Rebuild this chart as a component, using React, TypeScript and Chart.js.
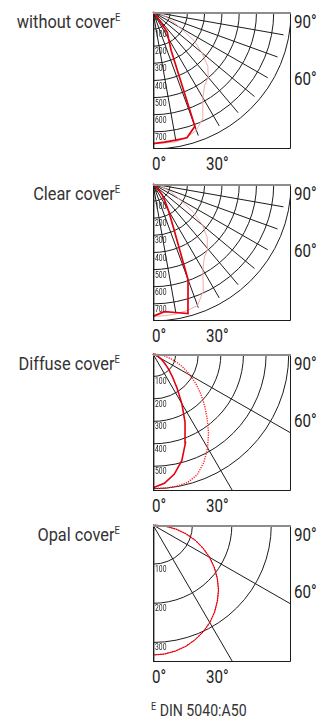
import React, { useEffect, useRef } from "react";
import { Chart, registerables } from "chart.js";

Chart.register(...registerables);

// Beam angles (degrees from nadir)
const ANGLES = [0, 5, 10, 15, 20, 25, 30, 35, 40, 45, 50, 55, 60, 65, 70, 75, 80, 85, 90];

// Luminous intensity, cd/klm — C0/C180 plane (solid) and C90/C270 plane (light / dotted)
const WITHOUT_C0 = [769, 763, 760, 760, 710, 250, 180, 145, 30, 10, 0, 0, 0, 0, 0, 0, 0, 0, 0];
const WITHOUT_C90 = [769, 768, 770, 758, 735, 685, 578, 522, 498, 450, 370, 290, 178, 118, 72, 45, 25, 10, 0];
const CLEAR_C0 = [773, 748, 762, 783, 594, 280, 180, 120, 80, 40, 15, 0, 0, 0, 0, 0, 0, 0, 0];
const CLEAR_C90 = [773, 772, 770, 765, 755, 690, 578, 520, 495, 445, 375, 285, 178, 118, 72, 45, 25, 10, 0];
const DIFFUSE_C0 = [595, 578, 543, 492, 420, 335, 255, 185, 135, 100, 72, 52, 36, 25, 16, 10, 5, 2, 0];
const DIFFUSE_C90 = [598, 600, 598, 592, 572, 532, 483, 428, 372, 322, 275, 232, 190, 152, 115, 82, 52, 25, 0];
const OPAL_C0 = [332, 331, 327, 321, 312, 301, 288, 272, 254, 235, 213, 190, 166, 140, 114, 86, 58, 29, 0];
const OPAL_C90 = [332, 331, 327, 321, 312, 301, 288, 272, 254, 235, 213, 190, 166, 140, 114, 86, 58, 29, 0];

// Grid rings and their labels
const WITHOUT_RINGS = [100, 200, 300, 400, 500, 600, 700, 800];
const WITHOUT_RING_LABELS = ["0", "100", "200", "300", "400", "500", "600", "700"];
const CLEAR_RINGS = [100, 200, 300, 400, 500, 600, 700, 800];
const CLEAR_RING_LABELS = ["0", "100", "200", "300", "400", "500", "600", "700"];
const DIFFUSE_RINGS = [100, 200, 300, 400, 500, 600];
const DIFFUSE_RING_LABELS = ["100", "200", "300", "400", "500"];
const OPAL_RINGS = [100, 200, 300];
const OPAL_RING_LABELS = ["100", "200", "300"];

const FINE_RAYS = [10, 20, 30, 40, 50, 60, 70, 80];
const COARSE_RAYS = [30, 60];

const TITLES = ["without cover", "Clear cover", "Diffuse cover", "Opal cover"];
const SCALE_MAX = [800, 800, 610, 350];
const ANGLE_LABELS = ["0°", "30°", "60°", "90°"];
const FOOTNOTE = "DIN 5040:A50";

const FONT = 'Roboto, "DejaVu Sans Condensed", sans-serif';

type Panel = {
  title: string;
  max: number;
  c0: number[];
  c90: number[];
  rings: number[];
  ringLabels: string[];
  rays: number[];
  rayLen: number;
  secondStyle: "pale" | "dotted";
  top: number;
};

const PANELS: Panel[] = [
  { title: TITLES[0], max: SCALE_MAX[0], c0: WITHOUT_C0, c90: WITHOUT_C90, rings: WITHOUT_RINGS, ringLabels: WITHOUT_RING_LABELS, rays: FINE_RAYS, rayLen: 0.96, secondStyle: "pale", top: 12 },
  { title: TITLES[1], max: SCALE_MAX[1], c0: CLEAR_C0, c90: CLEAR_C90, rings: CLEAR_RINGS, ringLabels: CLEAR_RING_LABELS, rays: FINE_RAYS, rayLen: 0.96, secondStyle: "pale", top: 184 },
  { title: TITLES[2], max: SCALE_MAX[2], c0: DIFFUSE_C0, c90: DIFFUSE_C90, rings: DIFFUSE_RINGS, ringLabels: DIFFUSE_RING_LABELS, rays: COARSE_RAYS, rayLen: 3, secondStyle: "dotted", top: 354 },
  { title: TITLES[3], max: SCALE_MAX[3], c0: OPAL_C0, c90: OPAL_C90, rings: OPAL_RINGS, ringLabels: OPAL_RING_LABELS, rays: COARSE_RAYS, rayLen: 3, secondStyle: "dotted", top: 525 },
];

const toXY = (vals: number[]) =>
  ANGLES.map((a, i) => {
    const t = (a * Math.PI) / 180;
    return { x: vals[i] * Math.sin(t), y: vals[i] * Math.cos(t) };
  });

const polarGrid = {
  id: "polarGrid",
  beforeDatasetsDraw(chart: any, _args: any, opts: any) {
    const { ctx, chartArea: ca, scales } = chart;
    const sx = scales.x, sy = scales.y;
    const ox = sx.getPixelForValue(0);
    const oy = sy.getPixelForValue(0);
    ctx.save();
    ctx.beginPath();
    ctx.rect(ca.left, ca.top, ca.right - ca.left, ca.bottom - ca.top);
    ctx.clip();
    ctx.strokeStyle = "#1c1c1c";
    ctx.lineWidth = 1;
    for (const v of opts.rings) {
      const rx = sx.getPixelForValue(v) - ox;
      const ry = sy.getPixelForValue(v) - oy;
      ctx.beginPath();
      ctx.ellipse(ox, oy, rx, ry, 0, 0, Math.PI / 2);
      ctx.stroke();
    }
    const L = opts.max * opts.rayLen;
    for (const a of opts.rays) {
      const t = (a * Math.PI) / 180;
      ctx.beginPath();
      ctx.moveTo(ox, oy);
      ctx.lineTo(sx.getPixelForValue(L * Math.sin(t)), sy.getPixelForValue(L * Math.cos(t)));
      ctx.stroke();
    }
    ctx.fillStyle = "#222";
    ctx.font = `8.5px ${FONT}`;
    ctx.textBaseline = "alphabetic";
    ctx.textAlign = "left";
    opts.ringLabels.forEach((lab: string) => {
      const v = Number(lab);
      const w = ctx.measureText(lab).width;
      ctx.fillText(lab, ox + 2, sy.getPixelForValue(v) + 8, w * 0.8);
    });
    ctx.restore();
  },
  afterDatasetsDraw(chart: any) {
    const { ctx, chartArea: ca } = chart;
    ctx.save();
    ctx.strokeStyle = "#1c1c1c";
    ctx.lineWidth = 1.4;
    ctx.beginPath();
    ctx.moveTo(ca.left + 0.7, ca.top);
    ctx.lineTo(ca.left + 0.7, ca.bottom);
    ctx.stroke();
    ctx.lineWidth = 1;
    ctx.beginPath();
    ctx.moveTo(ca.left, ca.bottom - 0.5);
    ctx.lineTo(ca.right - 0.5, ca.bottom - 0.5);
    ctx.lineTo(ca.right - 0.5, ca.top);
    ctx.stroke();
    ctx.strokeStyle = "#8d8d8d";
    ctx.lineWidth = 2;
    ctx.beginPath();
    ctx.moveTo(ca.left, ca.top + 1);
    ctx.lineTo(ca.right, ca.top + 1);
    ctx.stroke();
    ctx.restore();
  },
};

const txtBase: React.CSSProperties = { position: "absolute", fontFamily: FONT, whiteSpace: "nowrap" };

function Label({ left, top, size, scale, color, children }: { left: number; top: number; size: number; scale: number; color: string; children: React.ReactNode }) {
  return (
    <div style={{ ...txtBase, left, top, fontSize: size, lineHeight: `${size}px`, color, transform: `scaleX(${scale})`, transformOrigin: "left top" }}>
      {children}
    </div>
  );
}

function PolarPanel({ p }: { p: Panel }) {
  const ref = useRef<HTMLCanvasElement>(null);
  useEffect(() => {
    if (!ref.current) return;
    const second =
      p.secondStyle === "pale"
        ? { borderColor: "#f2aaaa", borderWidth: 1 }
        : { borderColor: "#ff2020", borderWidth: 1.4, borderDash: [1.2, 1.2] };
    const chart = new Chart(ref.current, {
      type: "scatter",
      data: {
        datasets: [
          {
            label: "C0-C180",
            data: toXY(p.c0),
            showLine: true,
            pointRadius: 0,
            borderColor: "#e3000f",
            borderWidth: p.secondStyle === "pale" ? 1.7 : p.max < 400 ? 1 : 1.6,
            tension: 0,
            clip: 2,
          } as any,
          {
            label: "C90-C270",
            data: toXY(p.c90),
            showLine: true,
            pointRadius: 0,
            tension: 0,
            clip: 2,
            ...second,
          } as any,
        ],
      },
      options: {
        responsive: false,
        animation: false,
        events: [],
        layout: { padding: { left: 3, right: 3, top: 3, bottom: 3 } },
        plugins: {
          legend: { display: false },
          tooltip: { enabled: false },
          polarGrid: { rings: p.rings, ringLabels: p.ringLabels, rays: p.rays, rayLen: p.rayLen, max: p.max },
        } as any,
        scales: {
          x: { type: "linear", min: 0, max: p.max, display: false },
          y: { type: "linear", min: 0, max: p.max, reverse: true, display: false },
        },
      },
      plugins: [polarGrid],
    });
    return () => chart.destroy();
  }, [p]);

  const t = p.top;
  return (
    <>
      <div
        style={{
          ...txtBase,
          right: 200,
          top: t,
          textAlign: "right",
          fontSize: 19,
          lineHeight: "19px",
          color: "#333",
          transform: "scaleX(0.86)",
          transformOrigin: "right top",
        }}
      >
        {p.title}
        <span style={{ fontSize: 11, position: "relative", top: -7 }}>E</span>
      </div>
      <canvas ref={ref} width={144} height={143} style={{ position: "absolute", left: 150, top: t - 3, width: 144, height: 143 }} />
      <Label left={294} top={t + 1} size={18} scale={0.84} color="#222">{ANGLE_LABELS[3]}</Label>
      <Label left={294} top={t + 58} size={18} scale={0.84} color="#222">{ANGLE_LABELS[2]}</Label>
      <Label left={152} top={t + 143} size={18} scale={0.84} color="#222">{ANGLE_LABELS[0]}</Label>
      <Label left={206} top={t + 143} size={18} scale={0.84} color="#222">{ANGLE_LABELS[1]}</Label>
    </>
  );
}

export default function App() {
  return (
    <div style={{ position: "absolute", left: 0, top: 0, width: 320, height: 718, background: "#fff", overflow: "hidden" }}>
      {PANELS.map((p, i) => (
        <PolarPanel key={i} p={p} />
      ))}
      <Label left={151} top={702} size={17} scale={0.83} color="#333">
        <span style={{ fontSize: 11, position: "relative", top: -6 }}>E</span> {FOOTNOTE}
      </Label>
    </div>
  );
}
